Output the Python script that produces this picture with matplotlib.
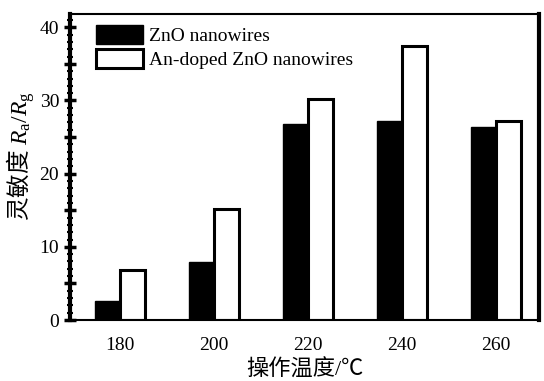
import matplotlib.pyplot as plt
import numpy as np
from matplotlib.ticker import MultipleLocator

plt.rcParams['font.family'] = ['Liberation Serif', 'Noto Sans CJK SC']
# mathtext: italic R and upright subscripts in serif
plt.rcParams['mathtext.fontset'] = 'custom'
plt.rcParams['mathtext.rm'] = 'Liberation Serif'
plt.rcParams['mathtext.it'] = 'Liberation Serif:italic'
plt.rcParams['mathtext.sf'] = 'Liberation Serif'

temps = ['180', '200', '220', '240', '260']
zno = [2.6, 7.9, 26.8, 27.2, 26.4]
an_doped = [6.8, 15.2, 30.2, 37.5, 27.2]

x = np.arange(len(temps))
w = 0.27

fig = plt.figure(figsize=(5.44, 3.81), dpi=100)
ax = fig.add_axes([0.129, 0.16, 0.862, 0.803])

ax.bar(x, zno, width=-w, align='edge', color='black', edgecolor='black',
       linewidth=1, label='ZnO nanowires')
ax.bar(x, an_doped, width=w, align='edge', color='white', edgecolor='black',
       linewidth=2.2, label='An-doped ZnO nanowires')

ax.set_xlim(-0.53, 4.46)
ax.set_ylim(0, 41.8)
ax.set_xticks(x)
ax.set_xticklabels(temps)
ax.tick_params(axis='x', length=0, labelsize=14, pad=12)
ax.yaxis.set_major_locator(MultipleLocator(10))
ax.yaxis.set_minor_locator(MultipleLocator(1))
ax.tick_params(axis='y', which='major', direction='inout', length=9, width=2.5, labelsize=14)
ax.tick_params(axis='y', which='minor', direction='inout', length=5, width=1.5)
# half-step ticks at 5, 15, ...
for v in np.arange(5, 40, 10):
    ax.plot([-0.53], [v], marker='_', markersize=9, mew=2.5, color='black', clip_on=False)

for side in ['left', 'right']:
    ax.spines[side].set_linewidth(3)
for side in ['top', 'bottom']:
    ax.spines[side].set_linewidth(1.5)

ax.set_xlabel('操作温度/℃', fontsize=16, labelpad=4)
# the plain part of a mathtext string uses the text's own font, so give it the CJK one
ax.set_ylabel('灵敏度 $R_\\mathsf{a}\\mathsf{/}R_\\mathsf{g}$', fontsize=17,
              family='Noto Sans CJK SC')
ax.yaxis.set_label_coords(-0.07, 0.535)

ax.legend(loc='upper left', frameon=False, fontsize=14, handlelength=2.4,
          handleheight=1.15, handletextpad=0.3, labelspacing=0.2,
          borderaxespad=0.15, bbox_to_anchor=(0.033, 1.0))

fig.savefig('out.png', dpi=100)
